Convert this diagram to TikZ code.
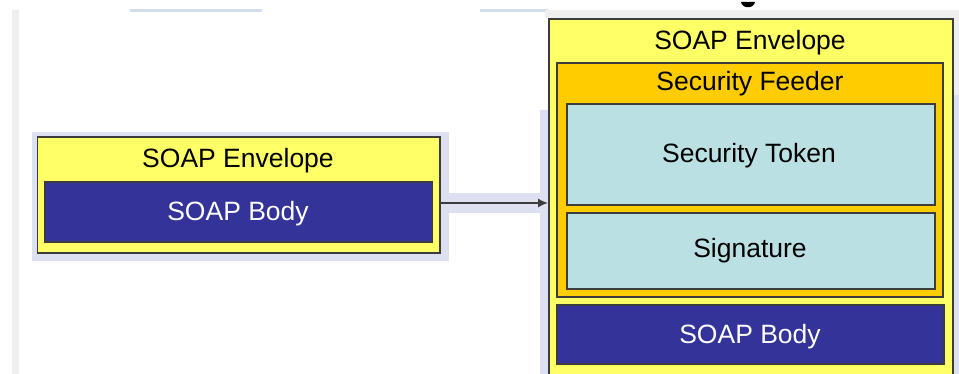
\documentclass[tikz,border=0pt]{standalone}
\usepackage{fontspec}
\setmainfont{Liberation Sans}
\usetikzlibrary{arrows.meta}
\definecolor{envyellow}{HTML}{FFFF66}
\definecolor{feedorange}{HTML}{FFCC00}
\definecolor{tokcyan}{HTML}{BAE0E3}
\definecolor{bodynavy}{HTML}{333399}
\definecolor{bordergray}{HTML}{3C3C3C}
\definecolor{shadelav}{HTML}{DDE0F0}
\definecolor{stripgray}{HTML}{EFEFEF}
\definecolor{stripblue}{HTML}{D3DEEC}
\tikzset{
  box/.style={draw=bordergray, line width=1.8pt, rectangle, inner sep=0pt, anchor=north west},
  lbl/.style={inner sep=0pt, anchor=base, font=\fontsize{26.5}{30}\selectfont, text=black},
  wlbl/.style={lbl, text=white},
  conn/.style={draw=bordergray, line width=1.6pt, -{Latex[length=10pt,width=9pt]}}
}
\begin{document}
\begin{tikzpicture}[x=1pt,y=-1pt]
\useasboundingbox (0,0) rectangle (959,374);
\clip (0,0) rectangle (959,374);
% screenshot background remnants
\fill[stripgray] (12,10) rectangle (19,374);
\fill[stripblue] (130,9) rectangle (262,12);
\fill[stripblue] (480,9) rectangle (548,12);
\fill[stripgray] (545,10) rectangle (959,18);
\fill[stripgray] (952,18) rectangle (959,95);
\fill[shadelav] (952,95) rectangle (959,374);
\fill[shadelav] (32,132) rectangle (449,261);
\fill[shadelav] (439,193) rectangle (548,213);
\fill[shadelav] (540,110) rectangle (548,374);
\fill[black] (741,2) .. controls (742,9) and (754,9) .. (755,2) -- cycle;
% left envelope
\node[box, fill=envyellow, minimum width=402.5pt, minimum height=115.5pt] (lenv) at (36.5,136.5) {};
\node[box, fill=bodynavy, minimum width=387.5pt, minimum height=60pt] (lbody) at (44,181) {};
\node[lbl] (lenvt) at (238,168) {SOAP Envelope};
\node[wlbl] (lbodyt) at (238,220.5) {SOAP Body};
% right envelope
\node[box, fill=envyellow, minimum width=404pt, minimum height=370pt] (renv) at (548,18) {};
\node[box, fill=feedorange, minimum width=386pt, minimum height=234pt] (feed) at (556,62) {};
\node[box, fill=tokcyan, minimum width=368pt, minimum height=101pt] (tok) at (566,103) {};
\node[box, fill=tokcyan, minimum width=368pt, minimum height=76pt] (sig) at (566,212) {};
\node[box, fill=bodynavy, minimum width=387pt, minimum height=59pt] (rbody) at (556,304) {};
\node[lbl] (renvt) at (750,50) {SOAP Envelope};
\node[lbl] (feedt) at (750,90.5) {Security Feeder};
\node[lbl] (tokt) at (749,163) {Security Token};
\node[lbl] (sigt) at (750,258) {Signature};
\node[wlbl] (rbodyt) at (750,343) {SOAP Body};
% connector
\coordinate (astart) at (lenv.east |- 0,203);
\coordinate (aend) at (renv.west |- 0,203);
\draw[conn] (astart) -- (aend);
\end{tikzpicture}
\end{document}
